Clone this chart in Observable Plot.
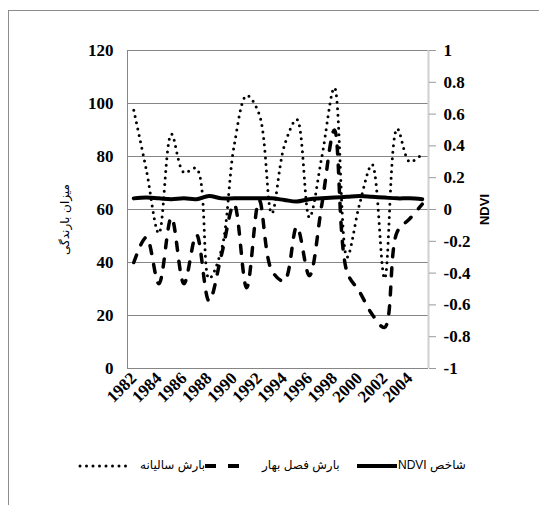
<!DOCTYPE html>
<html>
<head>
<meta charset="utf-8">
<script src="https://cdn.jsdelivr.net/npm/d3@7"></script>
<script src="https://cdn.jsdelivr.net/npm/@observablehq/plot@0.6"></script>
<style>
  html, body { margin: 0; padding: 0; background: #fff; overflow: hidden; width: 539px; height: 505px; }
  #frame { position: absolute; left: 8px; top: 10px; width: 600px; height: 600px; border: 1px solid #8c8c8c; box-sizing: border-box; }
  #chart { position: absolute; left: 0; top: 0; }
  .leg { position: absolute; top: 458px; font-family: "Liberation Sans", "DejaVu Sans", sans-serif; font-size: 12px; color: #000; white-space: nowrap; line-height: 14px; }
  .sym { position: absolute; top: 458px; }
</style>
</head>
<body>
<div id="frame"></div>
<div id="chart"></div>
<script>
// ---- data ----
const years = [1982,1983,1984,1985,1986,1987,1988,1989,1990,1991,1992,1993,1994,1995,1996,1997,1998,1999,2000,2001,2002,2003,2004,2005];
const annualRain = [97.5,75,51,88.5,74,75.5,34,45,84,103,96,58.5,84,94,57,80,106,42,62,77,34,90.5,78,81];
const springRain = [40,49.5,32,57,32,50.5,25.5,43,62,30.5,63.5,37,33,53.5,35,62,90,36.5,29,20.5,15.5,51.5,56.5,62];
const ndviValues = [0.07,0.075,0.07,0.065,0.07,0.065,0.085,0.07,0.07,0.07,0.07,0.07,0.06,0.05,0.065,0.07,0.075,0.08,0.085,0.08,0.075,0.07,0.07,0.065];
const yearTicks = [1982,1984,1986,1988,1990,1992,1994,1996,1998,2000,2002,2004];
const rainTicks = [0,20,40,60,80,100,120];
const ndviTicks = [-1,-0.8,-0.6,-0.4,-0.2,0,0.2,0.4,0.6,0.8,1];
const leftTitle = "میزان بارندگی";
const rightTitle = "NDVI";
const legendLabels = ["بارش سالیانه", "بارش فصل بهار", "شاخص NDVI"];

// NDVI [-1,1] mapped onto rain axis [0,120]
const toRain = v => (v + 1) * 60;
const data = years.map((y, i) => ({year: y, annual: annualRain[i], spring: springRain[i], ndvi: ndviValues[i]}));

const tickFont = {fontFamily: "Liberation Serif", fontWeight: "bold", fontSize: 17};

const chart = Plot.plot({
  width: 539,
  height: 440,
  marginLeft: 127,
  marginRight: 111,
  marginTop: 50,
  marginBottom: 72,
  style: {background: "transparent", color: "#000", overflow: "visible"},
  x: {type: "linear", domain: [years[0] - 0.5, years[years.length - 1] + 0.5], label: null},
  y: {domain: [0, 120], label: null},
  marks: [
    Plot.ruleY(rainTicks, {stroke: "#868686", strokeWidth: 1}),
    Plot.ruleX([years[0] - 0.5], {stroke: "#868686", strokeWidth: 1}),
    Plot.ruleX([years[years.length - 1] + 0.5], {stroke: "#cfcfcf", strokeWidth: 2}),
    Plot.axisY({anchor: "left", ticks: rainTicks, tickSize: 0, tickPadding: 14, tickFormat: d => String(d), label: null, ...tickFont}),
    Plot.axisY({anchor: "right", ticks: ndviTicks.map(toRain), tickSize: 7, tickPadding: 8, stroke: "#9a9a9a", label: null,
      tickFormat: d => String(Math.round((d / 60 - 1) * 10) / 10), ...tickFont}),
    Plot.axisX({ticks: yearTicks, tickSize: 0, tickPadding: 7, tickRotate: -45, tickFormat: d => String(d), label: null, ...tickFont}),
    Plot.line(data, {x: "year", y: "annual", curve: "catmull-rom", stroke: "#000", strokeWidth: 3, strokeDasharray: "0 6.5", strokeLinecap: "round"}),
    Plot.line(data, {x: "year", y: "spring", curve: "catmull-rom", stroke: "#000", strokeWidth: 3.5, strokeDasharray: "8 11", strokeLinecap: "round"}),
    Plot.line(data, {x: "year", y: d => toRain(d.ndvi), curve: "catmull-rom", stroke: "#000", strokeWidth: 4, strokeLinecap: "round"}),
    Plot.text([leftTitle], {text: d => d, frameAnchor: "left", textAnchor: "middle", dx: -62, dy: 10, rotate: -90, fontFamily: "DejaVu Sans", fontWeight: "normal", fontSize: 12, fill: "#000"}),
    Plot.text([rightTitle], {text: d => d, frameAnchor: "right", textAnchor: "middle", dx: 56, rotate: -90, fontFamily: "Liberation Sans", fontWeight: "bold", fontSize: 13, fill: "#000"})
  ]
});
document.getElementById("chart").appendChild(chart);

// legend (HTML, below the SVG area)
const legend = [
  {label: legendLabels[0], symX: 78, symW: 50, textX: 140, dash: "0 6.5", width: 3, cap: "round"},
  {label: legendLabels[1], symX: 205, symW: 34, textX: 262, dash: "11 12", width: 4, cap: "butt"},
  {label: legendLabels[2], symX: 357, symW: 40, textX: 398, dash: "none", width: 4, cap: "butt"}
];
legend.forEach(item => {
  const s = document.createElementNS("http://www.w3.org/2000/svg", "svg");
  s.setAttribute("class", "sym");
  s.setAttribute("width", item.symW);
  s.setAttribute("height", 14);
  s.style.left = item.symX + "px";
  const l = document.createElementNS("http://www.w3.org/2000/svg", "line");
  l.setAttribute("x1", item.cap === "round" ? 2 : 0);
  l.setAttribute("x2", item.cap === "round" ? item.symW - 2 : item.symW);
  l.setAttribute("y1", 8); l.setAttribute("y2", 8);
  l.setAttribute("stroke", "#000");
  l.setAttribute("stroke-width", item.width);
  l.setAttribute("stroke-linecap", item.cap);
  if (item.dash !== "none") l.setAttribute("stroke-dasharray", item.dash);
  s.appendChild(l);
  document.body.appendChild(s);
  const t = document.createElement("div");
  t.className = "leg";
  t.dir = "rtl";
  t.textContent = item.label;
  t.style.left = item.textX + "px";
  document.body.appendChild(t);
});
</script>
</body>
</html>
